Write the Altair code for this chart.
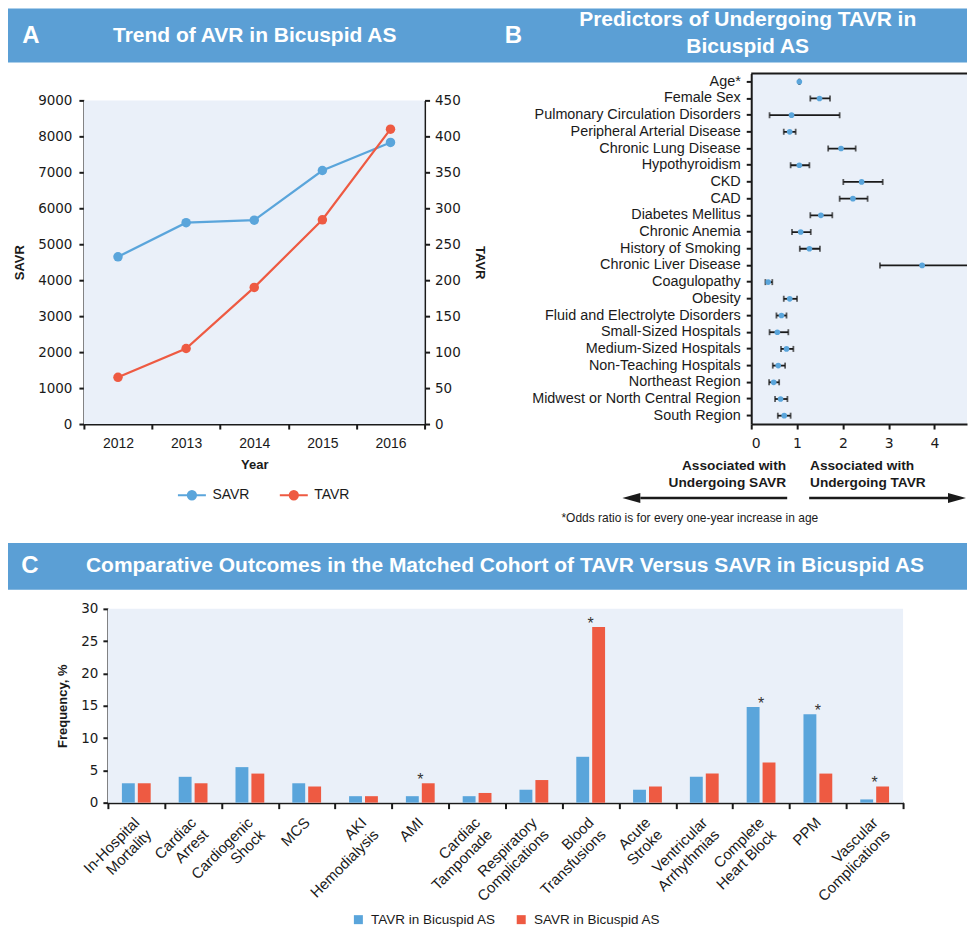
import altair as alt
import pandas as pd

# ---------------- data ----------------
# Panel A: annual AVR counts
years = [2012, 2013, 2014, 2015, 2016]
savr_counts = [4650, 5600, 5670, 7050, 7830]
tavr_counts = [65, 105, 190, 284, 410]

# Panel B: predictors (odds ratio and 95% CI)
predictors = [
    "Age*", "Female Sex", "Pulmonary Circulation Disorders", "Peripheral Arterial Disease",
    "Chronic Lung Disease", "Hypothyroidism", "CKD", "CAD", "Diabetes Mellitus",
    "Chronic Anemia", "History of Smoking", "Chronic Liver Disease", "Coagulopathy",
    "Obesity", "Fluid and Electrolyte Disorders", "Small-Sized Hospitals",
    "Medium-Sized Hospitals", "Non-Teaching Hospitals", "Northeast Region",
    "Midwest or North Central Region", "South Region",
]
odds_ratio = [1.05, 1.49, 0.88, 0.84, 1.96, 1.05, 2.41, 2.22, 1.52, 1.08, 1.27,
              3.73, 0.37, 0.84, 0.66, 0.57, 0.77, 0.59, 0.49, 0.64, 0.72]
ci_lower = [1.04, 1.29, 0.40, 0.71, 1.68, 0.86, 2.01, 1.93, 1.29, 0.89, 1.06,
            2.81, 0.31, 0.71, 0.55, 0.40, 0.65, 0.47, 0.39, 0.52, 0.58]
ci_upper = [1.06, 1.72, 1.93, 0.97, 2.28, 1.27, 2.87, 2.54, 1.77, 1.30, 1.50,
            5.40, 0.46, 1.00, 0.77, 0.81, 0.92, 0.74, 0.61, 0.79, 0.86]

# Panel C: outcomes (%), "|" marks a line break in the label
outcomes = [
    "In-Hospital|Mortality", "Cardiac|Arrest", "Cardiogenic|Shock", "MCS",
    "AKI|Hemodialysis", "AMI", "Cardiac|Tamponade", "Respiratory|Complications",
    "Blood|Transfusions", "Acute|Stroke", "Ventricular|Arrhythmias",
    "Complete|Heart Block", "PPM", "Vascular|Complications",
]
tavr_freq = [3.0, 4.0, 5.5, 3.0, 1.0, 1.0, 1.0, 2.0, 7.1, 2.0, 4.0, 14.8, 13.7, 0.5]
savr_freq = [3.0, 3.0, 4.5, 2.5, 1.0, 3.0, 1.5, 3.5, 27.2, 2.5, 4.5, 6.2, 4.5, 2.5]
significant = [False, False, False, False, False, True, False, False, True,
               False, False, True, True, True]
groups = ["TAVR in Bicuspid AS", "SAVR in Bicuspid AS"]

# ---------------- style ----------------
BLUE = "#5AA5DB"
RED = "#EE5A42"
HEAD = "#5B9FD5"
BG = "#EAF0F9"
INK = "#1a1a1a"
FONT = "Liberation Sans"
NUM = "DejaVu Sans"
HEAD_SIZE = 21
LETTER_SIZE = 24

A_W, A_H, A_TOP = 341, 351, 27
B_W, B_H, B_XMAX = 216, 351, 4.71
C_W, C_H, C_LEFT, C_RIGHT = 341, 194, 24, 820

one = alt.Data(values=[{}])


def rect(x, x2, y, y2, color):
    return alt.Chart(one).mark_rect(color=color).encode(
        x=alt.value(x), x2=alt.value(x2), y=alt.value(y), y2=alt.value(y2))


def label(txt, x, y, size, bold=False, align="center", color=INK, lh=0):
    kw = dict(text=txt, fontSize=size, fontWeight="bold" if bold else "normal",
              align=align, baseline="middle", font=FONT, color=color)
    if lh:
        kw.update(lineBreak="\n", lineHeight=lh)
    return alt.Chart(one).mark_text(**kw).encode(x=alt.value(x), y=alt.value(y))


# ---------------- panel A ----------------
a_df = pd.DataFrame({
    "year": years * 2,
    "series": ["SAVR"] * len(years) + ["TAVR"] * len(years),
    "count": savr_counts + tavr_counts,
})

LEG_SYM = ("M-2.2,0L2.2,0"
           "M0.65,0A0.65,0.65,0,1,1,-0.65,0A0.65,0.65,0,1,1,0.65,0"
           "M0.4,0A0.4,0.4,0,1,1,-0.4,0A0.4,0.4,0,1,1,0.4,0"
           "M0.15,0A0.15,0.15,0,1,1,-0.15,0A0.15,0.15,0,1,1,0.15,0")

a_color = alt.Color(
    "series:N",
    scale=alt.Scale(domain=["SAVR", "TAVR"], range=[BLUE, RED]),
    legend=alt.Legend(orient="none", legendX=100.6, legendY=414.6, direction="horizontal",
                      title=None, symbolType=LEG_SYM, symbolSize=162, symbolStrokeWidth=2,
                      labelFont=FONT, labelFontSize=14, labelColor=INK, labelOffset=13,
                      columnPadding=25),
)

a_x = alt.X(
    "year:O", bandPosition=0.5,
    scale=alt.Scale(type="band", paddingInner=0, paddingOuter=0),
    axis=alt.Axis(title="Year", tickBand="extent", labelAngle=0, labelFont=FONT,
                  labelFontSize=14, labelBaseline="middle", labelPadding=14,
                  titleFontSize=13, titleY=41, titleBaseline="middle"),
)


def a_series(name, top, step, orient, title_x, label_pad):
    return alt.Chart(a_df).transform_filter(alt.datum.series == name).mark_line(
        strokeWidth=2.2, point=alt.OverlayMarkDef(filled=True, size=90)
    ).encode(
        x=a_x,
        y=alt.Y("count:Q",
                scale=alt.Scale(domain=[0, top], range=[A_H, A_TOP], nice=False),
                axis=alt.Axis(orient=orient, values=list(range(0, top + 1, step)), title=name,
                              format="d", titleX=title_x, titleY=(A_TOP + A_H) / 2,
                              titleAngle=-90 if orient == "left" else 90,
                              titleAlign="center", titleBaseline="middle", titleFontSize=13,
                              labelFont=NUM, labelFontSize=13.5, labelPadding=label_pad)),
        color=a_color,
    )


panel_a = alt.layer(
    rect(-76, 884, -65, -11, HEAD),
    label("A", -53, -37, LETTER_SIZE, bold=True, color="white"),
    label("Trend of AVR in Bicuspid AS", 171, -37, HEAD_SIZE, bold=True, color="white"),
    rect(0, A_W, A_TOP, A_H, BG),
    a_series("SAVR", 9000, 1000, "left", -64.7, 7),
    a_series("TAVR", 450, 50, "right", 55, 5),
).resolve_scale(y="independent").properties(width=A_W, height=A_H)

# ---------------- panel B ----------------
b_df = pd.DataFrame({"predictor": predictors, "or": odds_ratio, "lo": ci_lower, "hi": ci_upper})

b_scale = alt.Scale(domain=[0, B_XMAX], nice=False, zero=False)
b_xaxis = alt.Axis(values=[0, 1, 2, 3, 4], title=None, labelFont=NUM, labelFontSize=14,
                   labelBaseline="middle", labelPadding=14, labelAngle=0)
b_y = alt.Y("predictor:N", scale=alt.Scale(domain=predictors, paddingInner=0, paddingOuter=0),
            axis=alt.Axis(title=None, labelFont=FONT, labelFontSize=14.4, labelLimit=320,
                          labelPadding=6, labelColor=INK))


def bx(field):
    return alt.X(f"{field}:Q", scale=b_scale, axis=b_xaxis)


b_ci = alt.Chart(b_df).mark_rule(clip=True, color=INK, strokeWidth=1.8).encode(
    x=bx("lo"), x2="hi:Q", y=b_y)
b_cap_lo = alt.Chart(b_df).mark_tick(clip=True, color=INK, thickness=1.8, size=6).encode(
    x=bx("lo"), y=b_y)
b_cap_hi = alt.Chart(b_df).mark_tick(clip=True, color=INK, thickness=1.8, size=6).encode(
    x=bx("hi"), y=b_y)
b_dots = alt.Chart(b_df).mark_circle(color=BLUE, size=32, opacity=1).encode(x=bx("or"), y=b_y)

b_border = alt.Chart(one).mark_rule(color=INK, strokeWidth=2).encode(
    x=alt.value(0), x2=alt.value(B_W), y=alt.value(0))


def assoc(txt, dx, align):
    return alt.Chart(one).mark_text(
        text=txt, lineBreak="\n", lineHeight=17, align=align, baseline="middle", dx=dx,
        fontSize=13.7, fontWeight="bold", font=FONT, color=INK,
    ).encode(x=alt.datum(1), y=alt.value(393))


def arrow_line(x1, x2):
    return alt.Chart(one).mark_rule(color=INK, strokeWidth=2.5).encode(
        x=alt.value(x1), x2=alt.value(x2), y=alt.value(425))


def arrow_head(x, path):
    return alt.Chart(one).mark_point(shape=path, filled=True, color=INK, size=100, opacity=1).encode(
        x=alt.value(x), y=alt.value(425))


panel_b = alt.layer(
    label("B", -238, -37, LETTER_SIZE, bold=True, color="white"),
    label("Predictors of Undergoing TAVR in\nBicuspid AS", -3.5, -53, HEAD_SIZE, bold=True,
          color="white", lh=27),
    b_border, b_ci, b_cap_lo, b_cap_hi, b_dots,
    assoc("Associated with\nUndergoing SAVR", -11, "right"),
    assoc("Associated with\nUndergoing TAVR", 13, "left"),
    arrow_line(-111, 36), arrow_head(-111, "M-3.6,0L0,-1L0,1Z"),
    arrow_line(58, 197), arrow_head(197, "M3.6,0L0,-1L0,1Z"),
    label("*Odds ratio is for every one-year increase in age", -190, 445, 12, align="left"),
).properties(width=B_W, height=B_H, view=alt.ViewBackground(fill=BG))

# ---------------- panel C ----------------
c_df = pd.DataFrame({
    "outcome": outcomes * 2,
    "group": [groups[0]] * len(outcomes) + [groups[1]] * len(outcomes),
    "value": tavr_freq + savr_freq,
})
star_df = pd.DataFrame({
    "outcome": outcomes,
    "value": [max(t, s) for t, s in zip(tavr_freq, savr_freq)],
    "sig": significant,
})
star_df = star_df[star_df["sig"]]

c_xscale = alt.Scale(domain=outcomes, range=[C_LEFT, C_RIGHT], paddingInner=0, paddingOuter=0)
c_xaxis = alt.Axis(title=None, tickBand="extent", tickSize=6, labelAngle=-45, labelAlign="right",
                   labelBaseline="middle", labelPadding=11,
                   labelExpr="split(datum.label, '|')", labelLineHeight=17, labelFont=FONT,
                   labelFontSize=15, labelOverlap=False, labelLimit=300)
c_yscale = alt.Scale(domain=[0, 30], nice=False)
c_yaxis = alt.Axis(offset=-C_LEFT, values=list(range(0, 31, 5)), title="Frequency, %",
                   titleX=-45, titleY=C_H / 2, titleAngle=-90, titleAlign="center",
                   titleBaseline="middle", titleFontSize=13, labelFont=NUM,
                   labelFontSize=13.5, labelPadding=5)

c_bars = alt.Chart(c_df).mark_bar().encode(
    x=alt.X("outcome:N", scale=c_xscale, axis=c_xaxis),
    xOffset=alt.XOffset("group:N", scale=alt.Scale(domain=groups, paddingInner=0.19, paddingOuter=0.88)),
    y=alt.Y("value:Q", scale=c_yscale, axis=c_yaxis),
    color=alt.Color("group:N", scale=alt.Scale(domain=groups, range=[BLUE, RED]),
                    legend=alt.Legend(orient="none", legendX=268, legendY=304,
                                      direction="horizontal", title=None, symbolType="square",
                                      symbolSize=81, symbolStrokeWidth=0, labelFont=FONT,
                                      labelFontSize=13.5, labelColor=INK, labelOffset=6,
                                      columnPadding=18)),
)
c_stars = alt.Chart(star_df).mark_text(
    text="*", fontSize=16, baseline="alphabetic", dy=2, color="#333", font=FONT
).encode(
    x=alt.X("outcome:N", scale=c_xscale, axis=c_xaxis, bandPosition=0.5),
    y=alt.Y("value:Q", scale=c_yscale, axis=c_yaxis),
)

panel_c = alt.layer(
    rect(-76, 884, -66, -19, HEAD),
    label("C", -54, -43, LETTER_SIZE, bold=True, color="white"),
    label("Comparative Outcomes in the Matched Cohort of TAVR Versus SAVR in Bicuspid AS",
          421.5, -43, HEAD_SIZE, bold=True, color="white"),
    rect(C_LEFT, C_RIGHT, 0, C_H, BG),
    c_bars, c_stars,
).properties(width=C_W, height=C_H)

# ---------------- assemble ----------------
chart = alt.concat(
    panel_a, panel_b, panel_c, columns=2, align="each", bounds="flush",
    spacing={"row": 185, "column": 327},
).resolve_scale(color="independent").properties(padding=0).configure(
    font=FONT
).configure_view(stroke=None).configure_axis(
    domainColor=INK, domainWidth=2, tickColor=INK, tickWidth=2, tickSize=5,
    labelColor=INK, titleColor=INK, grid=False, titleFontWeight="bold",
)

chart.save("out.html", embed_options={"renderer": "svg", "actions": False})
